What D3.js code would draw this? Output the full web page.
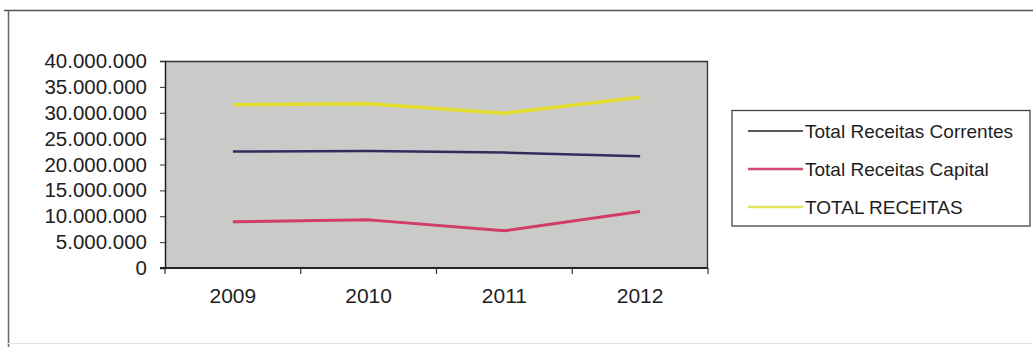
<!DOCTYPE html>
<html>
<head>
<meta charset="utf-8">
<script src="https://cdn.jsdelivr.net/npm/d3@7"></script>
<style>
  html, body { margin: 0; padding: 0; background: #fff; }
  svg { display: block; font-family: "Liberation Sans", Arial, sans-serif; }
</style>
</head>
<body>
<svg id="chart" width="1033" height="347"></svg>
<script>
const years = ["2009", "2010", "2011", "2012"];
const correntes = [22500000, 22600000, 22300000, 21600000];
const capital = [8950000, 9300000, 7200000, 10900000];
const total = [31550000, 31750000, 29900000, 33000000];
const seriesNames = ["Total Receitas Correntes", "Total Receitas Capital", "TOTAL RECEITAS"];
const yTicks = [0, 5000000, 10000000, 15000000, 20000000, 25000000, 30000000, 35000000, 40000000];

const series = [
  { name: seriesNames[0], values: correntes, color: "#2e2e5e", width: 2.5, legendColor: "#222", legendWidth: 1.6 },
  { name: seriesNames[1], values: capital, color: "#d23c68", width: 3, legendColor: "#cf4a74", legendWidth: 2.6 },
  { name: seriesNames[2], values: total, color: "#e4de2e", width: 3.5, legendColor: "#e6e45c", legendWidth: 2.6 }
];

const svg = d3.select("#chart");
const plot = { left: 165, right: 708, top: 61, bottom: 268 };

// outer frame
svg.append("line").attr("x1", 4).attr("x2", 1033).attr("y1", 10.5).attr("y2", 10.5)
  .attr("stroke", "#555").attr("stroke-width", 1.5);
svg.append("line").attr("x1", 8.5).attr("x2", 8.5).attr("y1", 10).attr("y2", 347)
  .attr("stroke", "#666").attr("stroke-width", 1.5);
svg.append("line").attr("x1", 8).attr("x2", 1033).attr("y1", 343.5).attr("y2", 343.5)
  .attr("stroke", "#e4e4e4").attr("stroke-width", 1);

const x = d3.scaleBand().domain(years).range([plot.left, plot.right]).padding(0);
const y = d3.scaleLinear().domain([0, 40000000]).range([plot.bottom, plot.top]);

// plot background
svg.append("rect")
  .attr("x", plot.left).attr("y", plot.top)
  .attr("width", plot.right - plot.left).attr("height", plot.bottom - plot.top)
  .attr("fill", "#cacac8");

// top and right border
svg.append("path")
  .attr("d", `M${plot.left},${plot.top + 0.5}H${plot.right - 0.5}V${plot.bottom}`)
  .attr("fill", "none").attr("stroke", "#333").attr("stroke-width", 1.3);

const fmt = v => v === 0 ? "0" : d3.format(",")(v).replace(/,/g, ".");

// y axis
const yAxis = svg.append("g")
  .attr("transform", `translate(${plot.left},0)`)
  .call(d3.axisLeft(y).tickValues(yTicks).tickSize(5).tickPadding(13).tickFormat(fmt));
yAxis.select(".domain").attr("stroke", "#222").attr("stroke-width", 1.5);
yAxis.selectAll(".tick line").attr("stroke", "#333");
yAxis.selectAll("text").attr("font-size", 20.5).attr("fill", "#1e1e1e")
  .attr("font-family", "'Liberation Sans', Arial, sans-serif");

// x axis: ticks between categories
const xAxisG = svg.append("g").attr("transform", `translate(0,${plot.bottom})`);
xAxisG.append("line").attr("x1", plot.left - 5).attr("x2", plot.right)
  .attr("y1", 0).attr("y2", 0).attr("stroke", "#222").attr("stroke-width", 1.8);
const boundaries = years.map(d => x(d)).concat([x(years[years.length - 1]) + x.bandwidth()]);
xAxisG.selectAll("line.tk").data(boundaries).enter().append("line").attr("class", "tk")
  .attr("x1", d => d).attr("x2", d => d).attr("y1", 0).attr("y2", 6)
  .attr("stroke", "#333").attr("stroke-width", 1.2);
xAxisG.selectAll("text").data(years).enter().append("text")
  .attr("x", d => x(d) + x.bandwidth() / 2)
  .attr("y", 34.5)
  .attr("text-anchor", "middle")
  .attr("font-size", 21).attr("fill", "#1e1e1e")
  .text(d => d);

// lines
const line = d3.line()
  .x((d, i) => x(years[i]) + x.bandwidth() / 2)
  .y(d => y(d));
svg.append("g").selectAll("path").data(series).enter().append("path")
  .attr("d", d => line(d.values))
  .attr("fill", "none")
  .attr("stroke", d => d.color)
  .attr("stroke-width", d => d.width)
  .attr("stroke-linejoin", "round");

// legend
const lg = svg.append("g");
lg.append("rect").attr("x", 732).attr("y", 110.5).attr("width", 298).attr("height", 115.5)
  .attr("fill", "#fff").attr("stroke", "#444").attr("stroke-width", 1.3);
const rows = lg.selectAll("g.row").data(series).enter().append("g").attr("class", "row")
  .attr("transform", (d, i) => `translate(0,${131 + i * 38})`);
rows.append("line").attr("x1", 748).attr("x2", 803).attr("y1", 0).attr("y2", 0)
  .attr("stroke", d => d.legendColor).attr("stroke-width", d => d.legendWidth);
rows.append("text").attr("x", 805).attr("y", 0).attr("dy", "0.35em")
  .attr("font-size", 19).attr("fill", "#1e1e1e")
  .text(d => d.name);
</script>
</body>
</html>
